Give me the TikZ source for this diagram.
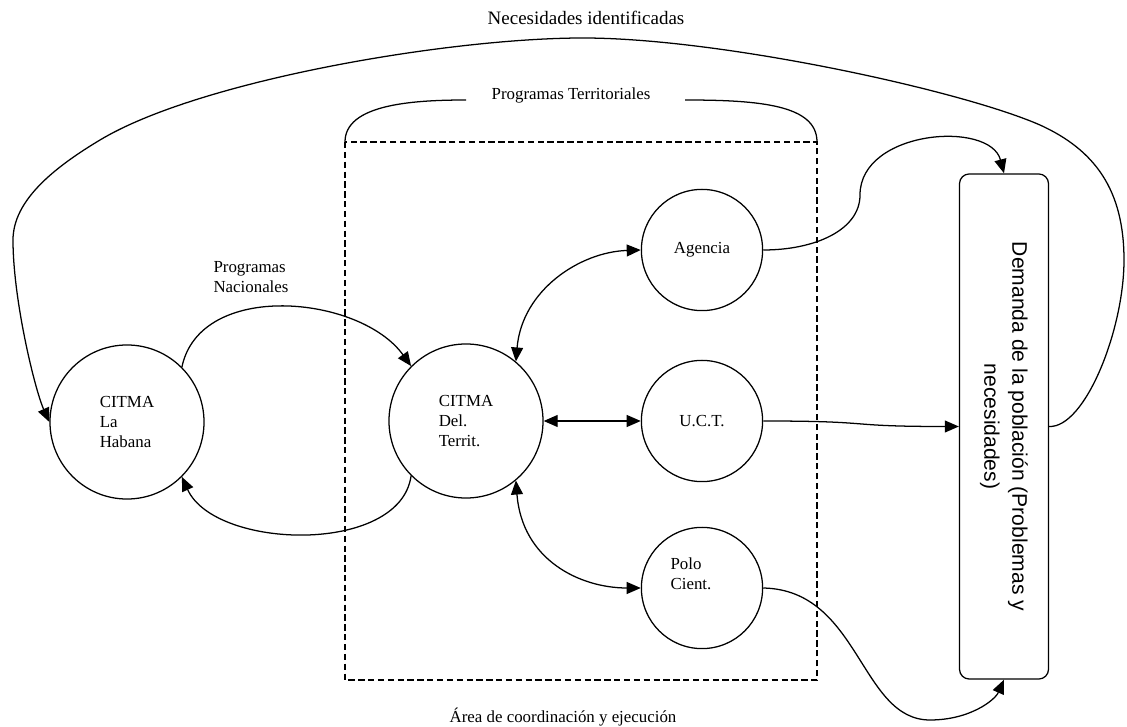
\documentclass[tikz,border=0pt]{standalone}
\usepackage{fontspec}
\setmainfont{Liberation Serif}
\setsansfont{Liberation Sans}
\usetikzlibrary{arrows.meta}

\begin{document}
\begin{tikzpicture}[x=0.025cm,y=-0.025cm,line width=0.9pt,
  bigcirc/.style={draw,circle,minimum size=3.85cm,inner sep=0pt,align=left,font=\fontsize{12}{14}\selectfont},
  smallcirc/.style={draw,circle,minimum size=3.03cm,inner sep=0pt,align=left,font=\fontsize{12}{14}\selectfont},
  lbl/.style={font=\fontsize{12}{14}\selectfont,align=left,inner sep=1pt},
  flow/.style={-{Triangle[length=10pt,width=8.5pt]}},
  twoway/.style={{Triangle[length=10pt,width=8.5pt]}-{Triangle[length=10pt,width=8.5pt]}},
  zone/.style={dash pattern=on 4.5pt off 2.5pt}]

% Picture frame (pixel grid of the original)
\useasboundingbox (0,0) rectangle (1127,727);

% Area de coordinacion - dashed box
\draw[zone] (345,142) rectangle (817,680);
\node[lbl] (area) at (563,717) {Área de coordinación y ejecución};

% Programas Territoriales - bracket over the box
\node[lbl] (progterr) at (571,95) {Programas Territoriales};
\draw (345,142) .. controls (345,105) and (410,100) .. (466,100);
\draw (685,100) .. controls (760,100) and (817,105) .. (817,142);

% Circles
\node[bigcirc] (citlh) at (127,422) {CITMA\\La\\Habana};
\node[bigcirc] (citdel) at (466,421) {CITMA\\Del.\\Territ.};
\node[smallcirc] (agencia) at (702,250) {Agencia};
\node[smallcirc] (uct) at (702,421) {U.C.T.};
\node[smallcirc] (polo) at (702,588) {};
\node[lbl] (polotxt) at (691,574) {Polo\\Cient.};

% Demanda box
\node[draw,rounded corners=7pt,minimum width=2.225cm,minimum height=12.625cm,inner sep=0pt] (demanda) at (1004,426.5) {};
\node[rotate=-90,align=center,font=\sffamily\fontsize{15}{20}\selectfont] (demtxt) at (demanda.center) {Demanda de la población (Problemas y\\necesidades)};

% Programas Nacionales
\node[lbl] (prognac) at (251,277) {Programas\\Nacionales};
\draw[flow] (citlh.45) .. controls (200,280) and (360,295) .. (citdel.135);
\draw[flow] (citdel.225) .. controls (400,555) and (215,550) .. (citlh.-45);

% CITMA Del. Territ. with the three entities
\draw[twoway] (citdel.50) .. controls (522,290) and (580,252) .. (agencia.west);
\draw[twoway] (citdel.east) -- (uct.west);
\draw[twoway] (citdel.-50) .. controls (522,560) and (580,588) .. (polo.west);

% Entities to Demanda
\draw[flow] (agencia.east) .. controls (815,250) and (860,230) .. (860,195)
  .. controls (860,130) and (990,120) .. (demanda.north);
\draw[flow] (uct.east) .. controls (880,421) and (840,426.5) .. (demanda.west);
\draw[flow] (polo.east) .. controls (860,590) and (860,720) .. (930,720)
  .. controls (970,720) and (995,700) .. (demanda.south);

% Necesidades identificadas - big loop back
\node[font=\fontsize{13.5}{16}\selectfont] (necesidades) at (586,18) {Necesidades identificadas};
\draw[flow] (demanda.east) .. controls (1085,428) and (1124,330) .. (1124,260)
  .. controls (1124,190) and (1095,150) .. (1040,125)
  .. controls (960,90) and (720,38) .. (583,38)
  .. controls (450,38) and (200,80) .. (100,140)
  .. controls (55,167) and (13,200) .. (13,240)
  .. controls (13,300) and (35,390) .. (citlh.west);
\end{tikzpicture}
\end{document}
